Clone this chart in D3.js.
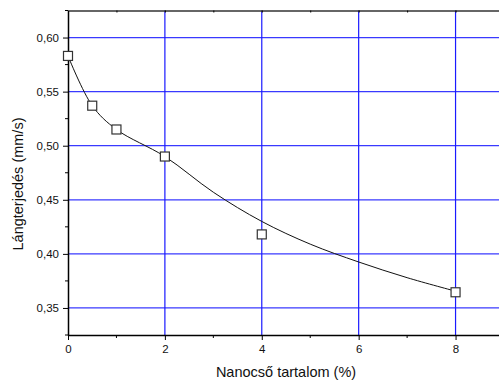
<!DOCTYPE html>
<html>
<head>
<meta charset="utf-8">
<script src="https://cdn.jsdelivr.net/npm/d3@7"></script>
<style>
  body { margin: 0; background: #fff; }
  svg { display: block; font-family: "Liberation Sans", Arial, sans-serif; }
</style>
</head>
<body>
<script>
// measured points
const nanoPct = [0, 0.5, 1, 2, 4, 8];
const speed = [0.583, 0.537, 0.515, 0.490, 0.418, 0.3645];

// fitted curve
const curveX = [0, 0.5, 1, 2, 3, 4, 5, 6, 7, 8];
const curveY = [0.583, 0.537, 0.515, 0.490, 0.457, 0.430, 0.409, 0.3925, 0.378, 0.3655];

const xTicks = [0, 2, 4, 6, 8];
const yTicks = [0.35, 0.40, 0.45, 0.50, 0.55, 0.60];

const width = 499, height = 381;
const margin = { top: 10.5, right: -5, bottom: 46, left: 68 };

const svg = d3.select("body").append("svg")
    .attr("width", width)
    .attr("height", height);

const x = d3.scaleLinear().domain([0, 9]).range([margin.left, width - margin.right]);
const y = d3.scaleLinear().domain([0.325, 0.625]).range([height - margin.bottom, margin.top]);

const fmt = d => d3.format(".2f")(d).replace(".", ",");

// grid
svg.append("g").selectAll("line")
    .data(yTicks)
    .join("line")
    .attr("x1", x(0)).attr("x2", width)
    .attr("y1", d => y(d)).attr("y2", d => y(d))
    .attr("stroke", "#3a3aff")
    .attr("stroke-width", 1.2);

svg.append("g").selectAll("line")
    .data(xTicks.slice(1))
    .join("line")
    .attr("x1", d => x(d)).attr("x2", d => x(d))
    .attr("y1", y(0.625)).attr("y2", y(0.325))
    .attr("stroke", "#1a1aff")
    .attr("stroke-width", 1.2);

// axes
const yAxis = svg.append("g")
    .attr("transform", `translate(${x(0)},0)`)
    .call(d3.axisLeft(y).tickValues(yTicks).tickFormat(fmt).tickSize(5).tickSizeOuter(0));
yAxis.append("g").selectAll("line")
    .data(d3.range(0.325, 0.626, 0.05))
    .join("line")
    .attr("x1", -3).attr("x2", 0)
    .attr("y1", d => y(d)).attr("y2", d => y(d))
    .attr("stroke", "#000");

const xAxis = svg.append("g")
    .attr("transform", `translate(0,${y(0.325)})`)
    .call(d3.axisBottom(x).tickValues(xTicks).tickFormat(d3.format("d")).tickSize(5).tickSizeOuter(0));
xAxis.append("g").selectAll("line")
    .data([1, 3, 5, 7, 9])
    .join("line")
    .attr("x1", d => x(d)).attr("x2", d => x(d))
    .attr("y1", 0).attr("y2", 3)
    .attr("stroke", "#000");

// top axis
const topAxis = svg.append("g")
    .attr("transform", `translate(0,${y(0.625)})`)
    .call(d3.axisTop(x).tickValues(d3.range(0, 10, 1)).tickFormat("").tickSize(-2).tickSizeOuter(0));
topAxis.select(".domain").attr("stroke", "#333");

svg.selectAll(".domain").attr("stroke-width", 1.5);
svg.selectAll(".tick text").attr("font-size", 11.5).attr("fill", "#111")
    .attr("font-family", "'Liberation Sans', Arial, sans-serif");
yAxis.selectAll(".tick text").attr("x", -9);
xAxis.selectAll(".tick text").attr("y", 10);

// fitted curve
const line = d3.line()
    .x(d => x(d[0]))
    .y(d => y(d[1]))
    .curve(d3.curveCatmullRom.alpha(0.5));

svg.append("path")
    .datum(d3.zip(curveX, curveY))
    .attr("d", line)
    .attr("fill", "none")
    .attr("stroke", "#111")
    .attr("stroke-width", 1);

// markers
svg.append("g").selectAll("rect")
    .data(d3.zip(nanoPct, speed))
    .join("rect")
    .attr("x", d => x(d[0]) - 4.5)
    .attr("y", d => y(d[1]) - 4.5)
    .attr("width", 9)
    .attr("height", 9)
    .attr("fill", "#fff")
    .attr("stroke", "#333")
    .attr("stroke-width", 1.2);

// labels
svg.append("text")
    .attr("x", 286)
    .attr("y", 377)
    .attr("text-anchor", "middle")
    .attr("font-size", 14.5)
    .attr("fill", "#111")
    .text("Nanocső tartalom (%)");

svg.append("text")
    .attr("transform", `translate(23,184) rotate(-90)`)
    .attr("text-anchor", "middle")
    .attr("font-size", 14.5)
    .attr("fill", "#111")
    .text("Lángterjedés (mm/s)");
</script>
</body>
</html>
